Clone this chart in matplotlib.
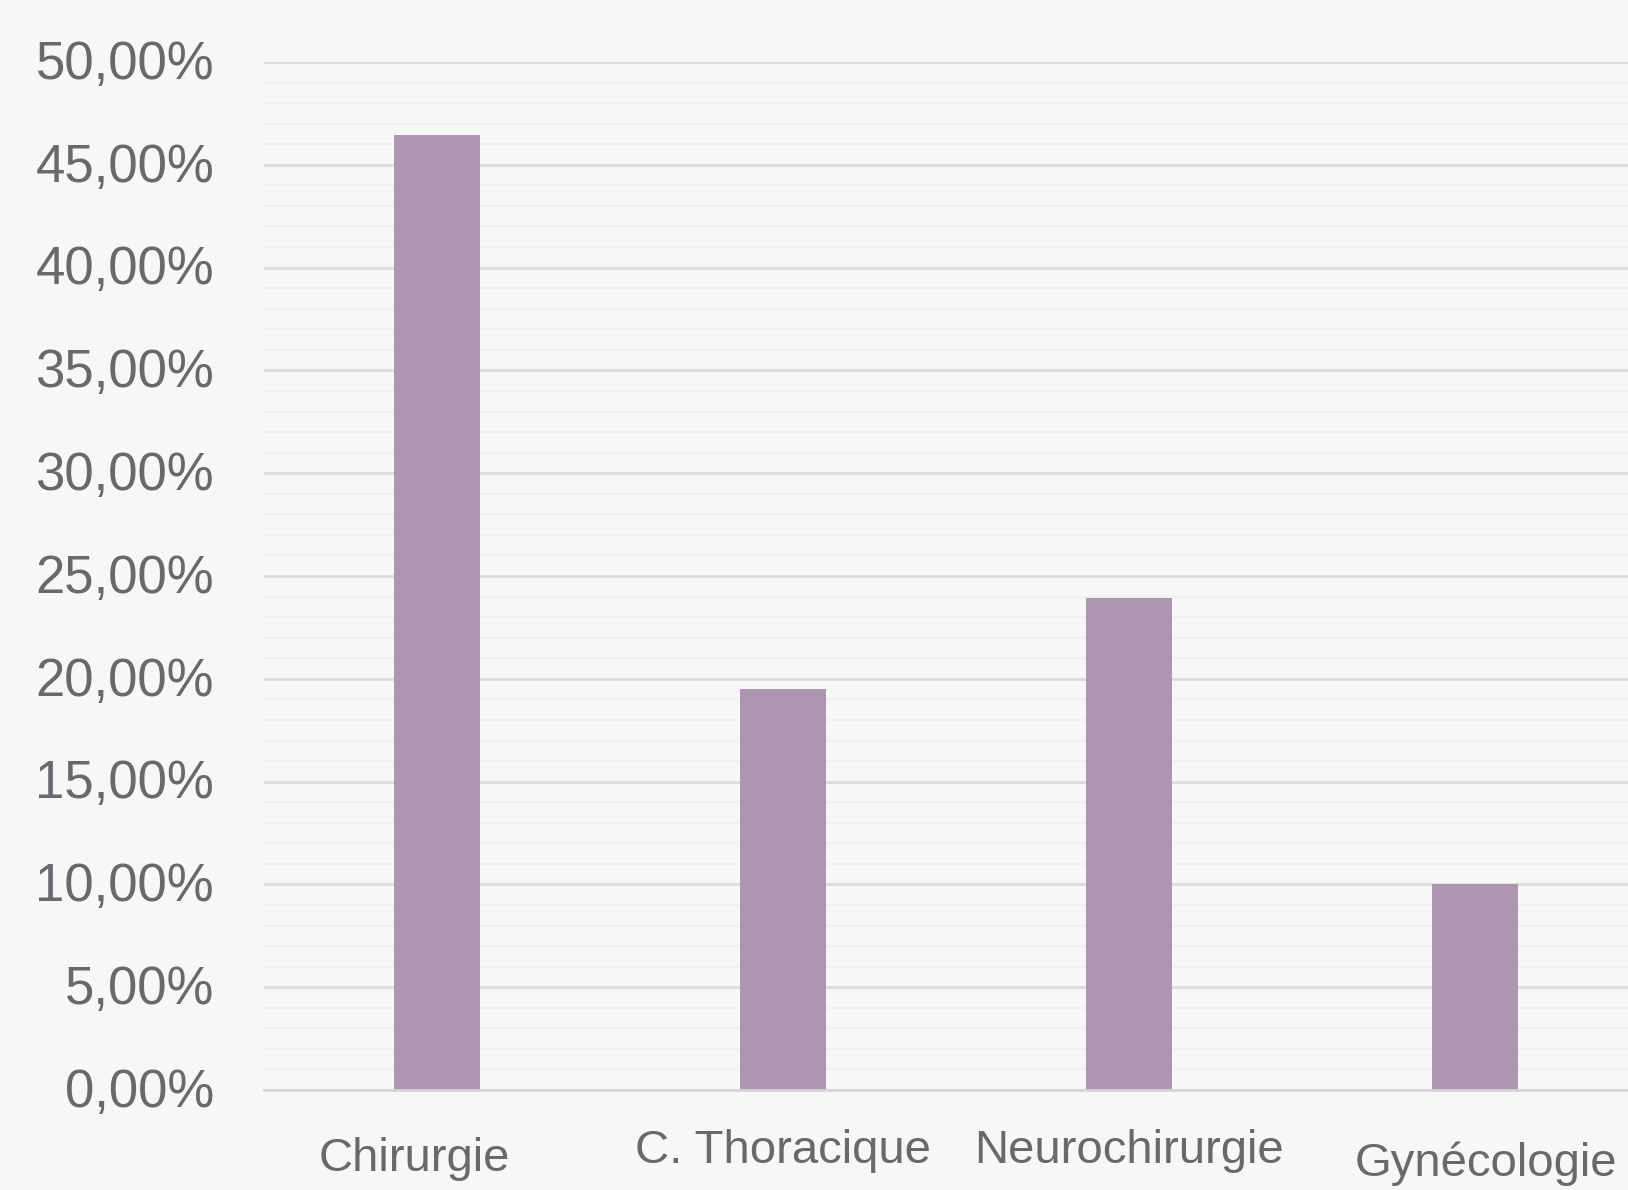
import numpy as np
import matplotlib
matplotlib.use("Agg")
import matplotlib.pyplot as plt
from matplotlib.ticker import MultipleLocator, FuncFormatter
import matplotlib.transforms as mtransforms

# services and share of cases (%)
services = ["Chirurgie", "C. Thoracique", "Neurochirurgie", "Gynécologie"]
shares = [46.45, 19.5, 23.95, 10.0]

# label nudges: x in category units, baseline in axes fraction
label_dx = [-0.065, 0.0, 0.0, 0.03]
label_y = [-0.079, -0.071, -0.071, -0.084]

BG = "#f7f7f7"
BAR = "#ad97b0"
TXT = "#68686d"

plt.rcParams['font.family'] = ['Liberation Sans', 'DejaVu Sans']

fig = plt.figure(figsize=(16.28, 11.90), dpi=100, facecolor=BG)
ax = fig.add_axes([0.1622, 0.084, 0.8378, 0.8639], facecolor=BG)

x = np.arange(len(services))
ax.bar(x, shares, width=0.248, color=BAR, zorder=3)

ax.set_ylim(0, 50)
ax.set_xlim(-0.5, 3.442)
ax.yaxis.set_major_locator(MultipleLocator(5))
ax.yaxis.set_minor_locator(MultipleLocator(1))
ax.yaxis.set_major_formatter(FuncFormatter(lambda v, p: ("%.2f%%" % v).replace(".", ",")))
ax.grid(which="major", axis="y", color="#dcdcdc", lw=2, zorder=1)
ax.grid(which="minor", axis="y", color="#f0f0f0", lw=1.5, zorder=0)

for s in ["top", "right", "left"]:
    ax.spines[s].set_visible(False)
ax.spines["bottom"].set_color("#d6d6d6")
ax.spines["bottom"].set_linewidth(2)
ax.spines["bottom"].set_zorder(4)

ax.tick_params(axis="y", which="both", length=0, pad=36, labelsize=38, labelcolor=TXT)
ax.tick_params(axis="x", length=0)
ax.set_xticks([])

# lift y labels a touch above their gridlines
lift = mtransforms.ScaledTranslation(0, 2 / 72, fig.dpi_scale_trans)
for lab in ax.get_yticklabels():
    lab.set_transform(lab.get_transform() + lift)

trans = mtransforms.blended_transform_factory(ax.transData, ax.transAxes)
for i, name in enumerate(services):
    ax.text(x[i] + label_dx[i], label_y[i], name, transform=trans, ha="center",
            va="baseline", fontsize=34, color=TXT, clip_on=False)

fig.savefig("out.png", dpi=100, facecolor=BG)
